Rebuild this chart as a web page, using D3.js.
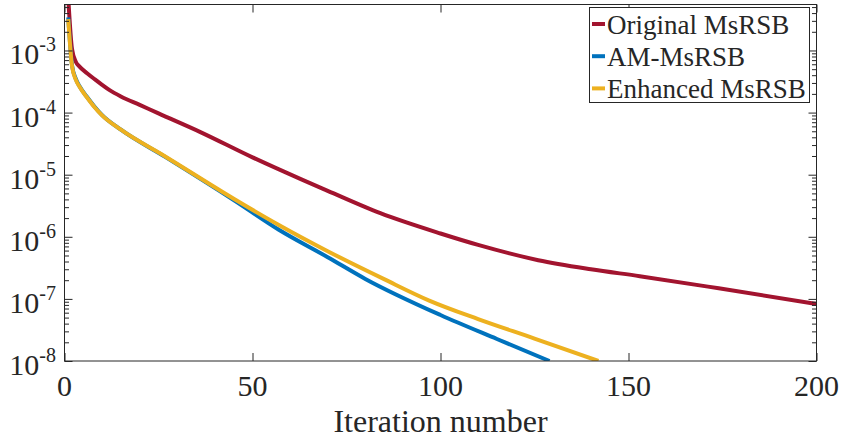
<!DOCTYPE html>
<html>
<head>
<meta charset="utf-8">
<script src="https://cdn.jsdelivr.net/npm/d3@7"></script>
<style>
  html, body { margin: 0; padding: 0; background: #fff; }
  svg { display: block; }
  text { font-family: "Liberation Serif", "Times New Roman", serif; fill: #262626; }
</style>
</head>
<body>
<svg id="chart" width="842" height="439"></svg>
<script>
// ---- data ----
const seriesNames = ["Original MsRSB", "AM-MsRSB", "Enhanced MsRSB"];
const seriesColors = ["#A2142F", "#0072BD", "#EDB120"];

const originalIter = [1, 2, 3, 4, 6, 8, 10, 12, 15, 20, 25, 36, 50, 63, 70, 84, 100, 110, 126, 140, 153, 174, 200];
const originalRes  = [7e-3, 1.05e-3, 6.6e-4, 5.5e-4, 4.3e-4, 3.45e-4, 2.8e-4, 2.3e-4, 1.82e-4, 1.33e-4, 9.7e-5, 4.9e-5, 1.9e-5, 8.4e-6, 5.5e-6, 2.4e-6, 1.13e-6, 7.4e-7, 4.2e-7, 3.0e-7, 2.32e-7, 1.48e-7, 8.3e-8];

const amIter = [1, 2, 3, 4, 6, 8, 10, 15, 27, 45, 57, 70, 80, 100, 115, 129];
const amRes  = [3.4e-3, 5.8e-4, 3.5e-4, 2.65e-4, 1.78e-4, 1.24e-4, 9.1e-5, 5.3e-5, 1.9e-5, 3.9e-6, 1.3e-6, 4.7e-7, 2.1e-7, 5.5e-8, 2.26e-8, 1.0e-8];

const enhIter = [1, 2, 3, 4, 6, 8, 10, 15, 27, 45, 57, 70, 85, 97, 110, 125, 142];
const enhRes  = [3.2e-3, 5.6e-4, 3.4e-4, 2.6e-4, 1.75e-4, 1.22e-4, 9.0e-5, 5.3e-5, 1.93e-5, 4.1e-6, 1.55e-6, 5.86e-7, 2.08e-7, 9.4e-8, 4.73e-8, 2.3e-8, 1.0e-8];

const xTicks = [0, 50, 100, 150, 200];
const yTickExps = [-8, -7, -6, -5, -4, -3];
const xDomain = [0, 200];
const yDomain = [1e-8, 5.5e-3];
const xLabel = "Iteration number";

// ---- layout ----
const L = 64.5, R = 816.5, T = 4.5, B = 361;
const axisColor = "#262626";
const svg = d3.select("#chart");

const xs = d3.scaleLinear().domain(xDomain).range([L, R]);
const ys = d3.scaleLog().domain(yDomain).range([B, T]);

svg.append("defs").append("clipPath").attr("id", "clip")
  .append("rect").attr("x", L).attr("y", T).attr("width", R - L).attr("height", B - T);

const series = [
  { name: seriesNames[0], color: seriesColors[0], it: originalIter, v: originalRes },
  { name: seriesNames[1], color: seriesColors[1], it: amIter, v: amRes },
  { name: seriesNames[2], color: seriesColors[2], it: enhIter, v: enhRes }
];
const lineGen = d3.line().x(d => xs(d[0])).y(d => ys(d[1])).curve(d3.curveMonotoneX);
const plotG = svg.append("g").attr("clip-path", "url(#clip)");
series.forEach(s => {
  plotG.append("path")
    .datum(s.it.map((t, i) => [t, s.v[i]]))
    .attr("d", lineGen)
    .attr("fill", "none")
    .attr("stroke", s.color)
    .attr("stroke-width", 4)
    .attr("stroke-linejoin", "round");
});

// axes (ticks inward, box on)
const axBottom = d3.axisBottom(xs).tickValues(xTicks).tickSize(-8).tickFormat("");
const axTop = d3.axisTop(xs).tickValues(xTicks).tickSize(-8).tickFormat("");
const minorVals = [];
for (let e = -8; e <= -3; e++) for (let m = 2; m <= 9; m++) {
  const v = m * Math.pow(10, e);
  if (v <= yDomain[1]) minorVals.push(v);
}
const majorVals = yTickExps.map(e => Math.pow(10, e));
const leftMajor = d3.axisLeft(ys).tickValues(majorVals).tickSize(-8).tickFormat("");
const leftMinor = d3.axisLeft(ys).tickValues(minorVals).tickSize(-4.5).tickFormat("");
const rightMajor = d3.axisRight(ys).tickValues(majorVals).tickSize(-8).tickFormat("");
const rightMinor = d3.axisRight(ys).tickValues(minorVals).tickSize(-4.5).tickFormat("");

function styleAxis(sel) {
  sel.selectAll("path.domain").remove();
  sel.selectAll("line").attr("stroke", axisColor).attr("stroke-width", 1);
}
svg.append("g").attr("transform", `translate(0,${B})`).call(axBottom).call(styleAxis);
svg.append("g").attr("transform", `translate(0,${T})`).call(axTop).call(styleAxis);
svg.append("g").attr("transform", `translate(${L},0)`).call(leftMajor).call(styleAxis);
svg.append("g").attr("transform", `translate(${L},0)`).call(leftMinor).call(styleAxis);
svg.append("g").attr("transform", `translate(${R},0)`).call(rightMajor).call(styleAxis);
svg.append("g").attr("transform", `translate(${R},0)`).call(rightMinor).call(styleAxis);

svg.append("rect").attr("x", L).attr("y", T).attr("width", R - L).attr("height", B - T)
  .attr("fill", "none").attr("stroke", axisColor).attr("stroke-width", 1);

// x tick labels
svg.append("g").selectAll("text").data(xTicks).join("text")
  .attr("x", d => xs(d)).attr("y", 396)
  .attr("text-anchor", "middle").attr("font-size", 30)
  .text(d => d);

// y tick labels 10^e
const yl = svg.append("g").selectAll("text").data(yTickExps).join("text")
  .attr("text-anchor", "end")
  .attr("x", 56)
  .attr("y", d => ys(Math.pow(10, d)) + 14)
  .attr("font-size", 30);
yl.append("tspan").text("10");
yl.append("tspan").attr("font-size", 20).attr("dy", -13).text(d => "-" + Math.abs(d));

// x axis title
svg.append("text").attr("x", (L + R) / 2).attr("y", 431.5)
  .attr("text-anchor", "middle").attr("font-size", 32).text(xLabel);

// legend
const lg = svg.append("g");
lg.append("rect").attr("x", 589.5).attr("y", 7.5).attr("width", 220).attr("height", 95)
  .attr("fill", "#fff").attr("stroke", axisColor).attr("stroke-width", 1);
series.forEach((s, i) => {
  const cy = 24 + i * 32.2;
  lg.append("line").attr("x1", 592).attr("x2", 605).attr("y1", cy).attr("y2", cy)
    .attr("stroke", s.color).attr("stroke-width", 4);
  lg.append("text").attr("x", 607).attr("y", cy + 9.5).attr("font-size", 27).text(s.name);
});
</script>
</body>
</html>
